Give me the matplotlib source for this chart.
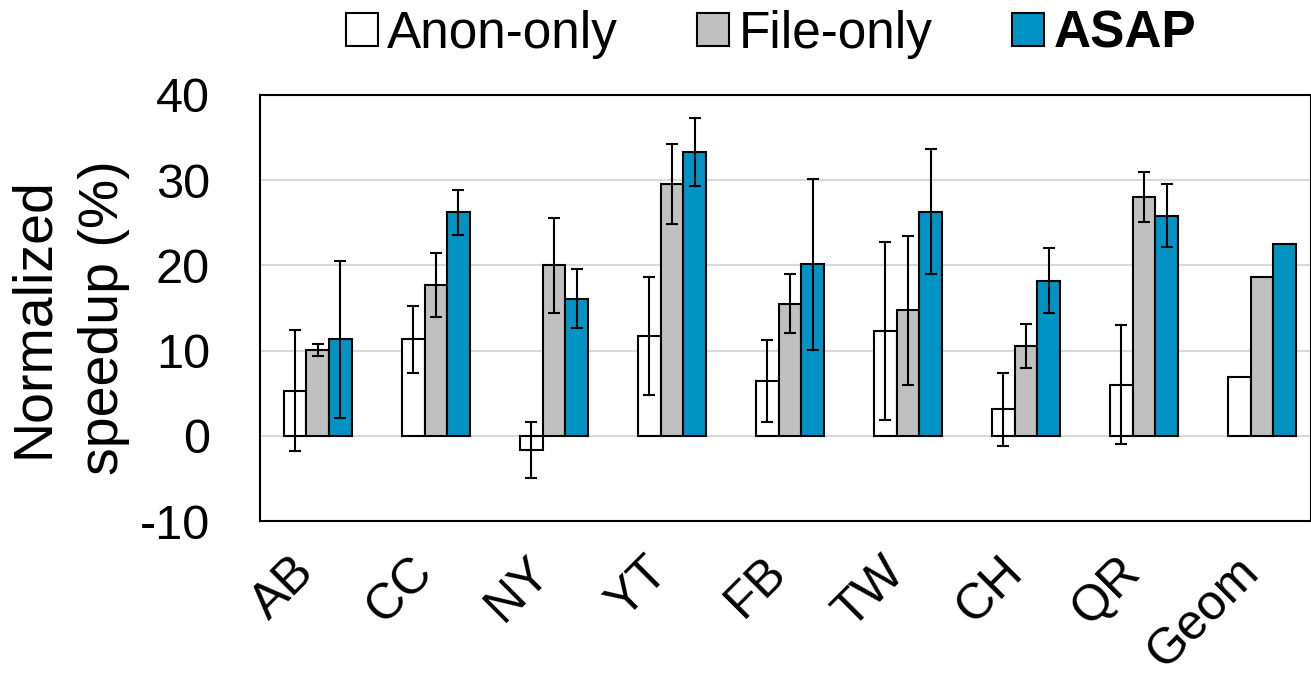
import numpy as np
import matplotlib
matplotlib.use("Agg")
import matplotlib.pyplot as plt
import matplotlib.transforms as mtransforms

plt.rcParams['font.family'] = ['Liberation Sans', 'DejaVu Sans']

# values
categories = ["AB", "CC", "NY", "YT", "FB", "TW", "CH", "QR", "Geom"]
anon = [5.3, 11.3, -1.7, 11.7, 6.4, 12.3, 3.1, 6.0, 6.9]
anon_err = [7.1, 3.9, 3.3, 6.9, 4.8, 10.4, 4.3, 7.0, np.nan]
file_only = [10.1, 17.7, 20.0, 29.5, 15.5, 14.7, 10.5, 28.0, 18.6]
file_err = [0.7, 3.8, 5.6, 4.7, 3.5, 8.7, 2.6, 2.9, np.nan]
asap = [11.3, 26.2, 16.1, 33.3, 20.1, 26.3, 18.2, 25.8, 22.5]
asap_err = [9.2, 2.6, 3.5, 4.0, 10.0, 7.3, 3.8, 3.7, np.nan]
yticks = [-10, 0, 10, 20, 30, 40]

fig = plt.figure(figsize=(13.11, 6.82), dpi=100)
ax = fig.add_axes([0.1983, 0.236, 0.8017, 0.625])

x = np.arange(len(categories))
w = 0.192
series = [(anon, anon_err, "white", "Anon-only"),
          (file_only, file_err, "#c0c0c0", "File-only"),
          (asap, asap_err, "#0093c4", "ASAP")]
handles = []
for i, (vals, errs, col, lab) in enumerate(series):
    xs = x + (i - 1) * w
    h = ax.bar(xs, vals, w, color=col, edgecolor="black", linewidth=1.5,
               label=lab, zorder=2)
    handles.append(h)
    errs = np.array(errs)
    ok = ~np.isnan(errs)
    ax.errorbar(xs[ok], np.array(vals)[ok], yerr=errs[ok], fmt="none",
                ecolor="black", elinewidth=1.5, capsize=4.5, capthick=1.5,
                zorder=3)

ax.set_xlim(-0.49, 8.415)
ax.set_ylim(-10, 40)
ax.set_yticks(yticks)
ax.set_yticklabels([str(t) for t in yticks])
ax.yaxis.grid(True, color="#d9d9d9", linewidth=1.5, zorder=0)
ax.set_axisbelow(True)
for s in ax.spines.values():
    s.set_color("black")
    s.set_linewidth(1.5)
ax.tick_params(axis="y", length=0, pad=36, labelsize=35)
ax.tick_params(axis="x", length=0)

ax.set_xticks(x)
ax.set_xticklabels(categories, rotation=45, ha="right", va="top",
                   fontsize=36)
off = mtransforms.ScaledTranslation(4 / 72, -16 / 72, fig.dpi_scale_trans)
for lbl in ax.get_xticklabels():
    lbl.set_transform(lbl.get_transform() + off)

ax.set_ylabel("Normalized\nspeedup (%)", fontsize=40, linespacing=1.45)
ax.yaxis.set_label_coords(-0.124, 0.477)

leg = fig.legend(handles=handles, loc="center", bbox_to_anchor=(0.588, 0.95),
                 ncol=3, frameon=False, fontsize=37, handlelength=0.62,
                 handleheight=0.62, handletextpad=0.18, columnspacing=1.55,
                 borderpad=0.1)
leg.get_texts()[2].set_fontweight("bold")

fig.savefig("out.png", dpi=100)
